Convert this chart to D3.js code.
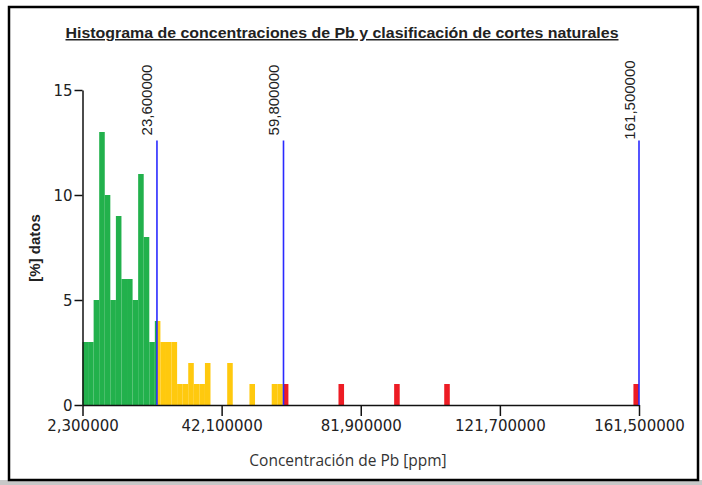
<!DOCTYPE html>
<html>
<head>
<meta charset="utf-8">
<script src="https://cdn.jsdelivr.net/npm/d3@7"></script>
<style>
  html, body { margin: 0; padding: 0; background: #fff; }
  svg { display: block; }
</style>
</head>
<body>
<svg id="chart" width="702" height="485"></svg>
<script>
// Histogram of Pb concentrations (100 equal-width bins) and natural-breaks classes
const dataMin = 2.3;
const dataMax = 161.5;
const binPercent = [
  3, 3, 5, 13, 10, 5, 9, 6, 6, 5,
  11, 8, 3, 4, 3, 3, 3, 1, 1, 2,
  1, 1, 2, 0, 0, 0, 2, 0, 0, 0,
  1, 0, 0, 0, 1, 1, 1, 0, 0, 0,
  0, 0, 0, 0, 0, 0, 1, 0, 0, 0,
  0, 0, 0, 0, 0, 0, 1, 0, 0, 0,
  0, 0, 0, 0, 0, 1, 0, 0, 0, 0,
  0, 0, 0, 0, 0, 0, 0, 0, 0, 0,
  0, 0, 0, 0, 0, 0, 0, 0, 0, 0,
  0, 0, 0, 0, 0, 0, 0, 0, 0, 1
];
const classBreaks = [23.6, 59.8, 161.5];
const classColors = ["#22b14c", "#ffc90e", "#ed1c24"];
const xTickValues = [2.3, 42.1, 81.9, 121.7, 161.5];
const yTickValues = [0, 5, 10, 15];

const fmt = v => v.toFixed(6).replace(".", ",");

const svg = d3.select("#chart");

// outer frame
svg.append("rect").attr("x", 0).attr("y", 480).attr("width", 702).attr("height", 5).attr("fill", "#c8c8c8");
svg.append("rect")
  .attr("x", 9).attr("y", 7).attr("width", 689).attr("height", 473)
  .attr("fill", "none").attr("stroke", "#000").attr("stroke-width", 2.5);

const x = d3.scaleLinear().domain([dataMin, dataMax]).range([82.5, 639]);
const y = d3.scaleLinear().domain([0, 15]).range([405, 90]);

// class intervals
const classes = classBreaks.map((hi, i) => ({
  lo: i === 0 ? dataMin : classBreaks[i - 1],
  hi,
  color: classColors[i]
}));

// bars: each bin split into the class intervals it overlaps
const binWidth = (dataMax - dataMin) / binPercent.length;
const pieces = [];
binPercent.forEach((v, i) => {
  if (!v) return;
  const b0 = dataMin + i * binWidth, b1 = b0 + binWidth;
  classes.forEach(c => {
    const s0 = Math.max(b0, c.lo), s1 = Math.min(b1, c.hi);
    if (s1 > s0) pieces.push({ x0: s0, x1: s1, v, color: c.color });
  });
});

svg.append("g").selectAll("rect").data(pieces).join("rect")
  .attr("x", d => x(d.x0))
  .attr("width", d => x(d.x1) - x(d.x0))
  .attr("y", d => y(d.v))
  .attr("height", d => y(0) - y(d.v))
  .attr("fill", d => d.color);

// axes
const axisColor = "#111";
const xAxis = svg.append("g").attr("transform", `translate(0,${y(0)})`)
  .call(d3.axisBottom(x).tickValues(xTickValues).tickFormat(fmt).tickSize(11).tickSizeOuter(0).tickPadding(4));
const yAxis = svg.append("g").attr("transform", `translate(${x(dataMin)},0)`)
  .call(d3.axisLeft(y).tickValues(yTickValues).tickSize(8).tickSizeOuter(0).tickPadding(2));

[xAxis, yAxis].forEach(g => {
  g.select(".domain").attr("stroke", axisColor).attr("stroke-width", 1.5);
  g.selectAll(".tick line").attr("stroke", axisColor).attr("stroke-width", 1.5);
  g.selectAll(".tick text")
    .attr("fill", "#222")
    .style("font-family", "'DejaVu Sans', sans-serif")
    .style("font-size", "15px");
});
yAxis.selectAll(".tick text").attr("dy", "0.35em");

// class break lines with rotated labels
const breakTop = 12.6;
const breaks = svg.append("g");
breaks.selectAll("line").data(classBreaks).join("line")
  .attr("x1", d => x(d)).attr("x2", d => x(d))
  .attr("y1", y(breakTop)).attr("y2", y(0))
  .attr("stroke", "#2a2aff").attr("stroke-width", 1.6);
breaks.selectAll("text").data(classBreaks).join("text")
  .attr("transform", d => `translate(${x(d) - 4.5},100) rotate(-90)`)
  .attr("text-anchor", "middle")
  .attr("fill", "#222")
  .style("font-family", "'Liberation Sans', Arial, sans-serif")
  .style("font-size", "15px")
  .text(fmt);

// title
svg.append("text")
  .attr("x", 342).attr("y", 38)
  .attr("text-anchor", "middle")
  .attr("fill", "#222")
  .attr("textLength", 553).attr("lengthAdjust", "spacingAndGlyphs")
  .style("font-family", "'Liberation Sans Narrow', 'Liberation Sans', sans-serif")
  .style("font-weight", "bold")
  .style("font-size", "15px")
  .style("text-decoration", "underline")
  .text("Histograma de concentraciones de Pb y clasificación de cortes naturales");

// axis titles
svg.append("text")
  .attr("transform", "translate(40,248) rotate(-90)")
  .attr("text-anchor", "middle")
  .attr("fill", "#222")
  .style("font-family", "'Liberation Sans Narrow', 'Liberation Sans', sans-serif")
  .style("font-weight", "bold")
  .style("font-size", "15px")
  .text("[%] datos");

svg.append("text")
  .attr("x", 348).attr("y", 466)
  .attr("text-anchor", "middle")
  .attr("fill", "#333")
  .style("font-family", "'Open Sans', sans-serif")
  .style("font-size", "15.5px")
  .text("Concentración de Pb [ppm]");
</script>
</body>
</html>
